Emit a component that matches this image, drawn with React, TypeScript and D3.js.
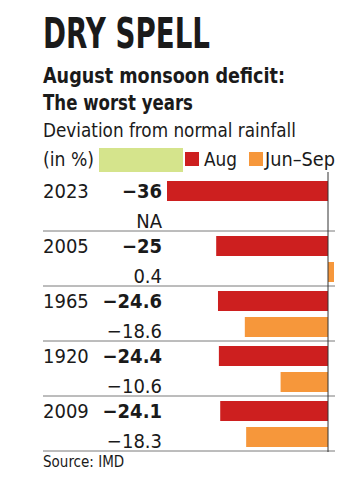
import React, { useEffect, useRef } from 'react';
import * as d3 from 'd3';

const years = ['2023', '2005', '1965', '1920', '2009'];
const augValues = [-36, -25, -24.6, -24.4, -24.1];
const junSepValues: (number | null)[] = [null, 0.4, -18.6, -10.6, -18.3];
const legendLabels = ['Aug', 'Jun–Sep'];

const RED = '#cd1f1f';
const ORANGE = '#f6973b';
const GREEN = '#d5e48c';
const FONT = '"DejaVu Sans Condensed", "DejaVu Sans", sans-serif';

const App = () => {
  const svgRef = useRef<SVGSVGElement>(null);

  useEffect(() => {
    const svg = d3.select(svgRef.current);
    svg.selectAll('*').remove();

    const width = 350;
    const height = 493;
    svg.attr('width', width).attr('height', height).style('font-family', FONT);

    // headings
    svg.append('text')
      .attr('x', 43).attr('y', 48)
      .attr('font-size', 42).attr('font-weight', 'bold').attr('fill', '#1a1a1a')
      .attr('textLength', 167).attr('lengthAdjust', 'spacingAndGlyphs')
      .text('DRY SPELL');

    svg.append('text')
      .attr('x', 43).attr('y', 83)
      .attr('font-size', 21).attr('font-weight', 'bold').attr('fill', '#1a1a1a')
      .attr('textLength', 242).attr('lengthAdjust', 'spacingAndGlyphs')
      .text('August monsoon deficit:');
    svg.append('text')
      .attr('x', 43).attr('y', 110)
      .attr('font-size', 21).attr('font-weight', 'bold').attr('fill', '#1a1a1a')
      .attr('textLength', 150).attr('lengthAdjust', 'spacingAndGlyphs')
      .text('The worst years');
    svg.append('text')
      .attr('x', 43).attr('y', 137)
      .attr('font-size', 20).attr('fill', '#1a1a1a')
      .attr('textLength', 253).attr('lengthAdjust', 'spacingAndGlyphs')
      .text('Deviation from normal rainfall');
    svg.append('text')
      .attr('x', 43).attr('y', 166)
      .attr('font-size', 20).attr('fill', '#1a1a1a')
      .attr('textLength', 51).attr('lengthAdjust', 'spacingAndGlyphs')
      .text('(in %)');

    // legend
    svg.append('rect').attr('x', 99).attr('y', 148).attr('width', 84).attr('height', 24).attr('fill', GREEN);
    svg.append('rect').attr('x', 185).attr('y', 152).attr('width', 14).attr('height', 14).attr('fill', RED);
    svg.append('text')
      .attr('x', 204).attr('y', 166).attr('font-size', 20).attr('fill', '#1a1a1a')
      .attr('textLength', 33).attr('lengthAdjust', 'spacingAndGlyphs')
      .text(legendLabels[0]);
    svg.append('rect').attr('x', 249).attr('y', 152).attr('width', 14).attr('height', 14).attr('fill', ORANGE);
    svg.append('text')
      .attr('x', 265).attr('y', 166).attr('font-size', 20).attr('fill', '#1a1a1a')
      .attr('textLength', 70).attr('lengthAdjust', 'spacingAndGlyphs')
      .text(legendLabels[1]);

    // scales
    const xScale = d3.scaleLinear().domain([-36, 0]).range([167, 328]);
    const yScale = d3.scaleBand().domain(years).range([176, 451]).padding(0);
    const step = yScale.step();
    const fmt = (v: number) => d3.format('')(v);

    const groups = svg.selectAll('.row')
      .data(years)
      .enter().append('g')
      .attr('class', 'row')
      .attr('transform', d => `translate(0, ${yScale(d)})`);

    // Aug bars
    groups.append('rect')
      .attr('x', (d, i) => xScale(Math.min(augValues[i], 0)))
      .attr('y', 5)
      .attr('width', (d, i) => Math.abs(xScale(augValues[i]) - xScale(0)))
      .attr('height', 20)
      .attr('fill', RED);

    // Jun-Sep bars
    groups.filter((d, i) => junSepValues[i] !== null)
      .append('rect')
      .attr('x', d => {
        const v = junSepValues[years.indexOf(d)] as number;
        return xScale(Math.min(v, 0));
      })
      .attr('y', 31)
      .attr('width', d => {
        const v = junSepValues[years.indexOf(d)] as number;
        return Math.max(Math.abs(xScale(v) - xScale(0)), v > 0 ? 6 : 0);
      })
      .attr('height', 20)
      .attr('fill', ORANGE);

    // year labels
    groups.append('text')
      .attr('x', 43).attr('y', 22)
      .attr('font-size', 20).attr('fill', '#1a1a1a')
      .text(d => d);

    // Aug values
    groups.append('text')
      .attr('x', 162).attr('y', 22)
      .attr('text-anchor', 'end')
      .attr('font-size', 20).attr('font-weight', 'bold').attr('fill', '#1a1a1a')
      .text((d, i) => fmt(augValues[i]));

    // Jun-Sep values
    groups.append('text')
      .attr('x', 162).attr('y', 52)
      .attr('text-anchor', 'end')
      .attr('font-size', 20).attr('fill', '#1a1a1a')
      .text((d, i) => (junSepValues[i] === null ? 'NA' : fmt(junSepValues[i] as number)));

    // separators
    groups.append('line')
      .attr('x1', 43).attr('x2', 335)
      .attr('y1', step).attr('y2', step)
      .attr('stroke', '#7a7a7a').attr('stroke-width', 1);

    // zero line
    svg.append('line')
      .attr('x1', xScale(0)).attr('x2', xScale(0))
      .attr('y1', 172).attr('y2', 452)
      .attr('stroke', '#333').attr('stroke-width', 1);

    svg.append('text')
      .attr('x', 43).attr('y', 467)
      .attr('font-size', 15).attr('fill', '#1a1a1a')
      .text('Source: IMD');
  }, []);

  return (
    <div style={{ position: 'absolute', left: 0, top: 0 }}>
      <svg ref={svgRef} style={{ display: 'block', background: '#fff' }}></svg>
    </div>
  );
};

export default App;
